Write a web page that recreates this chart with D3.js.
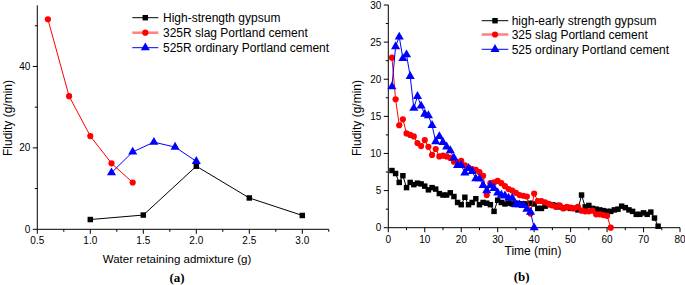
<!DOCTYPE html>
<html><head><meta charset="utf-8">
<script src="https://cdn.jsdelivr.net/npm/d3@7"></script>
<style>body{margin:0;background:#fff}svg{display:block}text{font-family:"Liberation Sans",Arial,sans-serif}</style>
</head><body><svg id="c" width="685" height="285"></svg>
<script>
// Panel (a)
const aGypsumX = [1.0, 1.5, 2.0, 2.5, 3.0];
const aGypsumY = [2.4, 3.5, 15.5, 7.7, 3.4];
const aSlagX = [0.6, 0.8, 1.0, 1.2, 1.4];
const aSlagY = [51.6, 32.7, 22.9, 16.2, 11.5];
const aOpcX = [1.2, 1.4, 1.6, 1.8, 2.0];
const aOpcY = [13.9, 19.0, 21.4, 20.2, 16.7];
const aXTicks = [0.5, 1.0, 1.5, 2.0, 2.5, 3.0];
const aYTicks = [0, 20, 40];
const aLegend = ["High-strength gypsum", "325R slag Portland cement", "525R ordinary Portland cement"];

// Panel (b): values at t = 1, 2, 3, ... minutes
const bGypsum = [7.7,7.3,6.1,7.0,5.4,6.1,5.8,6.0,5.9,5.6,5.1,5.4,5.2,4.6,4.4,4.4,4.7,4.2,3.4,3.1,
  4.1,3.1,3.4,3.9,3.1,3.4,3.3,3.1,2.2,3.7,3.4,3.2,3.3,3.2,3.3,3.2,3.2,3.2,3.3,3.2,
  2.6,2.6,2.9,3.1,3.1,3.0,2.8,2.7,2.7,2.6,2.6,2.4,4.4,2.8,3.0,2.6,2.5,2.4,2.3,2.2,
  2.2,2.4,2.5,2.9,2.7,2.4,2.2,1.8,1.8,2.0,1.8,2.1,1.3,0.2];
const bSlag = [22.9,17.3,13.8,14.6,12.7,12.5,12.3,11.4,11.0,11.8,10.9,9.8,10.6,9.6,9.7,9.6,9.4,8.9,8.8,9.0,
  8.4,8.1,7.9,7.8,7.5,7.0,4.4,6.0,6.1,6.3,6.0,5.6,5.2,5.0,4.7,4.4,4.3,4.2,1.9,4.6,
  3.6,3.6,3.4,3.2,3.0,2.8,3.0,2.6,2.8,2.7,2.6,2.8,2.3,2.2,2.2,2.3,1.8,1.8,1.7,1.6,0];
const bOpc = [19.0,24.4,25.7,22.8,23.3,20.4,16.1,17.7,16.4,15.3,15.1,13.8,11.6,12.3,11.5,10.9,10.4,9.4,8.4,8.4,
  7.4,8.0,7.6,6.6,6.6,5.7,5.0,5.7,5.3,4.7,4.4,4.3,4.0,4.0,3.1,3.1,3.0,2.5,2.1,0];
const bXTicks = [0, 10, 20, 30, 40, 50, 60, 70, 80];
const bYTicks = [0, 5, 10, 15, 20, 25, 30];
const bLegend = ["high-early strength gypsum", "325 slag Portland cement", "525 ordinary Portland cement"];

const svg = d3.select("#c");
const colors = ["#000000", "#ff0000", "#0000ff"];
const symbols = [d3.symbolSquare, d3.symbolCircle, d3.symbolTriangle];
const sizes = [30, 30, 36];

function axes(x, y, xTicks, xMinor, yTicks, yMinor, fmtX, fmtY) {
  const [x0, x1] = x.range(), [y0, y1] = y.range();
  const g = svg.append("g");
  g.append("line").attr("x1", x0).attr("x2", x1).attr("y1", y0).attr("y2", y0).attr("stroke", "#000");
  g.append("line").attr("x1", x0).attr("x2", x0).attr("y1", y0).attr("y2", y1).attr("stroke", "#000");
  xMinor.forEach(v => g.append("line").attr("x1", x(v)).attr("x2", x(v)).attr("y1", y0).attr("y2", y0 + 2.5).attr("stroke", "#000"));
  xTicks.forEach(v => {
    g.append("line").attr("x1", x(v)).attr("x2", x(v)).attr("y1", y0).attr("y2", y0 + 4.5).attr("stroke", "#000");
    g.append("text").attr("x", x(v)).attr("y", y0 + 15).attr("text-anchor", "middle").attr("font-size", 10).text(fmtX(v));
  });
  yMinor.forEach(v => g.append("line").attr("x1", x0).attr("x2", x0 - 2.5).attr("y1", y(v)).attr("y2", y(v)).attr("stroke", "#000"));
  yTicks.forEach(v => {
    g.append("line").attr("x1", x0).attr("x2", x0 - 4.5).attr("y1", y(v)).attr("y2", y(v)).attr("stroke", "#000");
    g.append("text").attr("x", x0 - 7).attr("y", y(v) + 3.6).attr("text-anchor", "end").attr("font-size", 10).text(fmtY(v));
  });
}

function series(x, y, xs, ys, i) {
  const pts = xs.map((d, k) => [x(d), y(ys[k])]);
  svg.append("path").attr("d", d3.line()(pts)).attr("fill", "none").attr("stroke", colors[i]).attr("stroke-width", 1);
  svg.append("g").selectAll("path").data(pts).join("path")
    .attr("transform", d => `translate(${d[0]},${d[1]})`)
    .attr("d", d3.symbol(symbols[i], sizes[i])).attr("fill", colors[i]);
}

function legend(lx0, lx1, tx, ys, labels) {
  labels.forEach((t, i) => {
    svg.append("line").attr("x1", lx0).attr("x2", lx1).attr("y1", ys[i]).attr("y2", ys[i])
      .attr("stroke", i === 1 ? "#ff8080" : colors[i]).attr("stroke-width", i === 1 ? 2.5 : 1);
    svg.append("path").attr("transform", `translate(${(lx0 + lx1) / 2},${ys[i]})`)
      .attr("d", d3.symbol(symbols[i], sizes[i])).attr("fill", colors[i]);
    svg.append("text").attr("x", tx).attr("y", ys[i] + 4.2).attr("font-size", 12).text(t);
  });
}

// ---- Panel (a)
const xa = d3.scaleLinear().domain([0.5, 3.25]).range([37.3, 328.8]);
const ya = d3.scaleLinear().domain([0, 55]).range([229.3, 5.4]);
axes(xa, ya, aXTicks, [0.75, 1.25, 1.75, 2.25, 2.75, 3.25], aYTicks, [10, 30, 50], d3.format(".1f"), d3.format("d"));
series(xa, ya, aGypsumX, aGypsumY, 0);
series(xa, ya, aSlagX, aSlagY, 1);
series(xa, ya, aOpcX, aOpcY, 2);
legend(132.3, 158.3, 163, [17.7, 32.7, 47.7], aLegend);
svg.append("text").attr("x", 177).attr("y", 262.5).attr("text-anchor", "middle").attr("font-size", 11.5).text("Water retaining admixture (g)");
svg.append("text").attr("transform", "translate(12,118) rotate(-90)").attr("text-anchor", "middle").attr("font-size", 12).text("Fludity (g/min)");
svg.append("text").attr("x", 177).attr("y", 282).attr("text-anchor", "middle").attr("font-size", 13).attr("font-weight", "bold").style("font-family", "'Liberation Serif','Times New Roman',serif").text("(a)");

// ---- Panel (b)
const xb = d3.scaleLinear().domain([0, 80]).range([388.3, 680]);
const yb = d3.scaleLinear().domain([0, 30]).range([227.7, 5]);
axes(xb, yb, bXTicks, [5, 15, 25, 35, 45, 55, 65, 75], bYTicks, [2.5, 7.5, 12.5, 17.5, 22.5, 27.5], d3.format("d"), d3.format("d"));
const tG = bGypsum.map((d, k) => k + 1), tS = bSlag.map((d, k) => k + 1), tO = bOpc.map((d, k) => k + 1);
series(xb, yb, tG, bGypsum, 0);
series(xb, yb, tS, bSlag, 1);
series(xb, yb, tO, bOpc, 2);
legend(481.7, 508.3, 511.7, [20.7, 34.5, 49.3], bLegend);
svg.append("text").attr("x", 533).attr("y", 254.5).attr("text-anchor", "middle").attr("font-size", 12).text("Time (min)");
svg.append("text").attr("transform", "translate(361,118) rotate(-90)").attr("text-anchor", "middle").attr("font-size", 12).text("Fludity (g/min)");
svg.append("text").attr("x", 521.7).attr("y", 281).attr("text-anchor", "middle").attr("font-size", 13).attr("font-weight", "bold").style("font-family", "'Liberation Serif','Times New Roman',serif").text("(b)");
</script></body></html>
